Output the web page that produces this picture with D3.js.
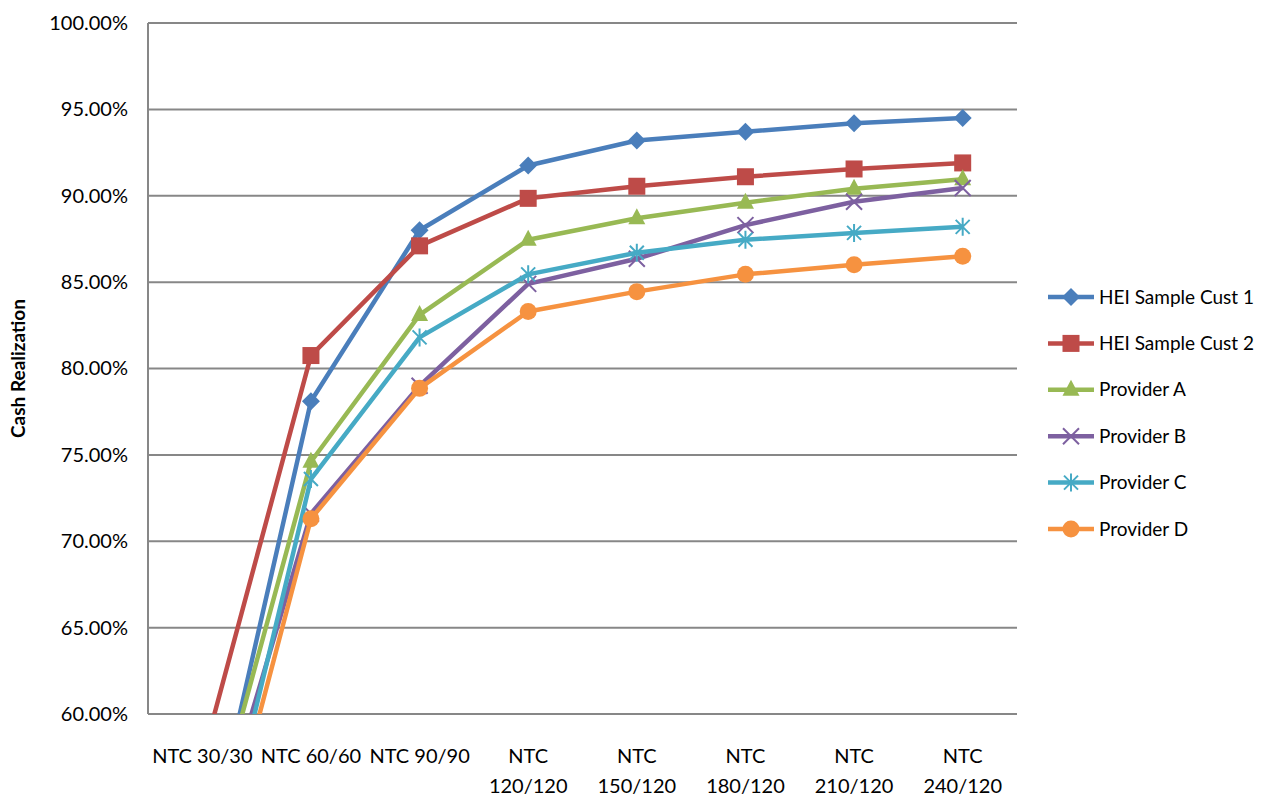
<!DOCTYPE html>
<html><head><meta charset="utf-8">
<script src="https://cdn.jsdelivr.net/npm/d3@7"></script>
<style>
html,body{margin:0;padding:0;background:#fff;}
text{font-family:Lato,"Open Sans",sans-serif;fill:#000;}
</style></head>
<body><svg id="chart" width="1265" height="800"></svg>
<script>
const categories = ["NTC 30/30","NTC 60/60","NTC 90/90","NTC 120/120","NTC 150/120","NTC 180/120","NTC 210/120","NTC 240/120"];
const seriesNames = ["HEI Sample Cust 1","HEI Sample Cust 2","Provider A","Provider B","Provider C","Provider D"];
const cust1 = [50.5, 78.1, 88.0, 91.75, 93.2, 93.7, 94.2, 94.5];
const cust2 = [57.4, 80.75, 87.1, 89.85, 90.55, 91.1, 91.55, 91.9];
const provA = [51.5, 74.6, 83.1, 87.45, 88.7, 89.6, 90.4, 90.95];
const provB = [50.4, 71.6, 79.0, 84.9, 86.35, 88.3, 89.65, 90.45];
const provC = [47.4, 73.6, 81.8, 85.45, 86.7, 87.45, 87.85, 88.2];
const provD = [47.4, 71.3, 78.85, 83.3, 84.45, 85.45, 86.0, 86.5];
const yTicks = [60, 65, 70, 75, 80, 85, 90, 95, 100];
const colors = ["#4A7EBB","#BE4B48","#98B954","#7D60A0","#46AAC5","#F69240"];
const markers = ["diamond","square","triangle","x","asterisk","circle"];
const allValues = [cust1, cust2, provA, provB, provC, provD];

const svg = d3.select("#chart");
const L = 148, R = 1017, T = 23, B = 714;
const x = d3.scaleBand().domain(categories).range([L, R]);
const y = d3.scaleLinear().domain([60, 100]).range([B, T]);

// gridlines
svg.append("g").selectAll("line").data(yTicks).join("line")
  .attr("x1", L).attr("x2", R)
  .attr("y1", d => y(d)).attr("y2", d => y(d))
  .attr("stroke", "#878787").attr("stroke-width", 2);
// left axis line
svg.append("line").attr("x1", L).attr("x2", L).attr("y1", T).attr("y2", B)
  .attr("stroke", "#878787").attr("stroke-width", 2);

// y axis labels
const yAxis = d3.axisLeft(y).tickValues(yTicks).tickSize(0).tickPadding(20)
  .tickFormat(d => d3.format(".2f")(d) + "%");
const yg = svg.append("g").attr("transform", `translate(${L},0)`).call(yAxis);
yg.select(".domain").remove();
yg.selectAll("text").style("font-family", "Lato").style("font-size", "20px").attr("fill", "#000");

// x axis labels
const xAxis = d3.axisBottom(x).tickSize(0).tickPadding(0);
const xg = svg.append("g").attr("transform", `translate(0,${B})`).call(xAxis);
xg.select(".domain").remove();
xg.selectAll("text").each(function(d) {
  const t = d3.select(this);
  t.text(null).attr("y", 0).attr("dy", null).style("font-family", "Lato").style("font-size", "20px").attr("fill", "#000");
  t.append("tspan").attr("x", 0).attr("y", 49).text(d);
  if (this.getComputedTextLength() > x.bandwidth() - 6) {
    t.text(null);
    const parts = d.split(" ");
    t.append("tspan").attr("x", 0).attr("y", 49).text(parts[0]);
    t.append("tspan").attr("x", 0).attr("y", 79).text(parts.slice(1).join(" "));
  }
});

// y title
svg.append("text").attr("transform", `translate(25,${(T + B) / 2}) rotate(-90)`)
  .attr("text-anchor", "middle").style("font-weight", "bold").style("font-size", "19px")
  .text("Cash Realization");

// clip
svg.append("clipPath").attr("id", "clip").append("rect")
  .attr("x", L).attr("y", 0).attr("width", R - L + 40).attr("height", B);

const cx = c => x(c) + x.bandwidth() / 2;
const line = d3.line().x((d, i) => cx(categories[i])).y(d => y(d));

function drawMarker(g, type, px, py, color) {
  const s = 9;
  if (type === "diamond") {
    g.append("path").attr("d", `M${px},${py - s}L${px + s},${py}L${px},${py + s}L${px - s},${py}Z`).attr("fill", color);
  } else if (type === "square") {
    g.append("rect").attr("x", px - 8.5).attr("y", py - 8.5).attr("width", 17).attr("height", 17).attr("fill", color);
  } else if (type === "triangle") {
    g.append("path").attr("d", `M${px},${py - 10}L${px + 8.5},${py + 6}L${px - 8.5},${py + 6}Z`).attr("fill", color);
  } else if (type === "circle") {
    g.append("circle").attr("cx", px).attr("cy", py).attr("r", 8.5).attr("fill", color);
  } else if (type === "x") {
    const k = 8;
    g.append("path").attr("d", `M${px - k},${py - k}L${px + k},${py + k}M${px - k},${py + k}L${px + k},${py - k}`)
      .attr("stroke", color).attr("stroke-width", 2).attr("fill", "none");
  } else if (type === "asterisk") {
    const k = 7, v = 9;
    g.append("path").attr("d", `M${px - k},${py - k}L${px + k},${py + k}M${px - k},${py + k}L${px + k},${py - k}M${px},${py - v}L${px},${py + v}`)
      .attr("stroke", color).attr("stroke-width", 2).attr("fill", "none");
  }
}

const plot = svg.append("g").attr("clip-path", "url(#clip)");
allValues.forEach((vals, si) => {
  const g = plot.append("g");
  g.append("path").datum(vals).attr("d", line).attr("fill", "none")
    .attr("stroke", colors[si]).attr("stroke-width", 4.5).attr("stroke-linejoin", "round");
  vals.forEach((v, i) => {
    if (v >= 60) drawMarker(g, markers[si], cx(categories[i]), y(v), colors[si]);
  });
});

// legend
const lg = svg.append("g");
seriesNames.forEach((name, i) => {
  const ly = 297 + i * 46.4;
  lg.append("line").attr("x1", 1048).attr("x2", 1094).attr("y1", ly).attr("y2", ly)
    .attr("stroke", colors[i]).attr("stroke-width", 4.5);
  drawMarker(lg, markers[i], 1071, ly, colors[i]);
  lg.append("text").attr("x", 1099).attr("y", ly).attr("dy", "0.35em")
    .style("font-size", "19px").text(name);
});
</script></body></html>
